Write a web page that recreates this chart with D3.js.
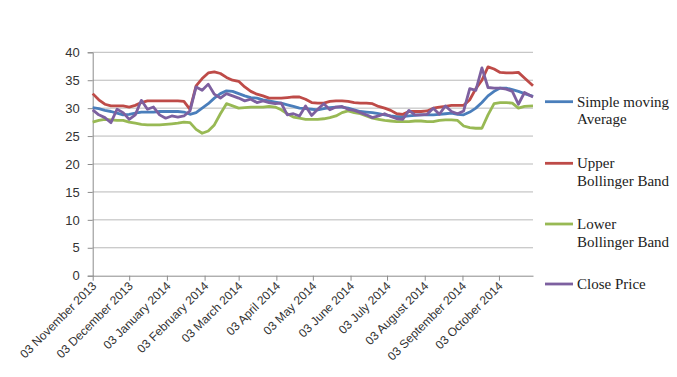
<!DOCTYPE html>
<html lang="en">
<head>
    <meta charset="UTF-8">
    <title>Bollinger Bands</title>
    <script src="https://d3js.org/d3.v7.min.js"></script>
    <style>
        body { margin: 0; background: #fff; }
        .grid line { stroke: #b9b9b9; stroke-width: 1; }
        .x-axis text, .y-axis text {
            font-family: "Liberation Sans", Arial, sans-serif;
            fill: #333;
        }
        .legend text {
            font-family: "Liberation Serif", "Times New Roman", serif;
            font-size: 15px;
            fill: #222;
        }
    </style>
</head>
<body>
    <div id="chart"></div>
    <script>
        // Dates of the samples (every 5 days)
        const dates = [
            "2013-11-03","2013-11-08","2013-11-13","2013-11-18","2013-11-23","2013-11-28",
            "2013-12-03","2013-12-08","2013-12-13","2013-12-18","2013-12-23","2013-12-28",
            "2014-01-02","2014-01-07","2014-01-12","2014-01-17","2014-01-22","2014-01-27",
            "2014-02-01","2014-02-06","2014-02-11","2014-02-16","2014-02-21","2014-02-26",
            "2014-03-03","2014-03-08","2014-03-13","2014-03-18","2014-03-23","2014-03-28",
            "2014-04-02","2014-04-07","2014-04-12","2014-04-17","2014-04-22","2014-04-27",
            "2014-05-02","2014-05-07","2014-05-12","2014-05-17","2014-05-22","2014-05-27",
            "2014-06-01","2014-06-06","2014-06-11","2014-06-16","2014-06-21","2014-06-26",
            "2014-07-01","2014-07-06","2014-07-11","2014-07-16","2014-07-21","2014-07-26",
            "2014-07-31","2014-08-05","2014-08-10","2014-08-15","2014-08-20","2014-08-25",
            "2014-08-30","2014-09-04","2014-09-09","2014-09-14","2014-09-19","2014-09-24",
            "2014-09-29","2014-10-04","2014-10-09","2014-10-14","2014-10-19","2014-10-24",
            "2014-10-31"
        ];

        const sma = [
            30.1,29.9,29.6,29.4,29.1,28.8, 28.9,29.1,29.3,29.3,29.3,29.4,
            29.4,29.4,29.4,29.3,28.9,29.2, 30.0,30.8,31.8,32.6,33.1,33.0,
            32.6,32.2,31.9,31.8,31.5,31.3, 31.1,30.9,30.6,30.3,30.0,29.9,
            29.8,29.7,29.9,30.1,30.2,30.2, 30.0,29.7,29.4,29.3,29.2,29.0,
            28.8,28.6,28.5,28.5,28.6,28.7, 28.8,28.8,28.8,28.9,29.0,29.1,
            28.9,28.8,29.3,30.0,31.0,32.2, 33.0,33.6,33.6,33.3,33.0,32.6,
            32.1
        ];

        const upperBand = [
            32.6,31.5,30.7,30.4,30.4,30.4, 30.2,30.5,31.0,31.3,31.3,31.3,
            31.3,31.3,31.3,31.2,29.8,34.0, 35.3,36.3,36.5,36.2,35.5,35.0,
            34.8,33.8,33.0,32.5,32.2,31.8, 31.8,31.8,31.9,32.0,32.0,31.6,
            31.0,30.9,30.9,31.2,31.3,31.3, 31.2,31.0,30.9,30.9,30.8,30.3,
            30.0,29.6,29.0,28.9,29.4,29.4, 29.4,29.5,30.0,30.2,30.3,30.5,
            30.5,30.5,31.5,33.5,35.0,37.4, 37.0,36.4,36.3,36.3,36.4,35.4,
            34.0
        ];

        const lowerBand = [
            27.5,27.8,28.0,27.9,27.8,27.8, 27.5,27.3,27.1,27.0,27.0,27.0,
            27.1,27.2,27.3,27.5,27.4,26.2, 25.5,25.9,27.0,29.0,30.8,30.4,
            30.0,30.1,30.2,30.2,30.2,30.3, 30.2,29.7,29.0,28.4,28.2,28.0,
            28.0,28.0,28.1,28.3,28.6,29.2, 29.5,29.2,29.0,28.6,28.2,28.0,
            27.8,27.7,27.6,27.6,27.6,27.7, 27.7,27.6,27.6,27.8,27.9,27.9,
            27.8,26.8,26.5,26.4,26.4,28.8, 30.8,31.0,31.0,30.9,30.0,30.3,
            30.4
        ];

        const closePrice = [
            29.7,28.8,28.3,27.4,29.8,29.2, 28.0,28.8,31.4,29.8,30.2,28.8,
            28.2,28.6,28.4,28.6,29.5,33.8, 33.2,34.3,32.5,31.8,32.6,32.2,
            31.8,31.3,31.6,31.0,31.3,31.0, 30.8,30.9,28.8,29.0,28.6,30.4,
            28.7,29.8,30.8,29.7,30.2,30.3, 29.8,29.6,29.2,28.8,28.3,28.6,
            29.0,28.5,28.1,28.0,29.6,28.8, 28.8,28.9,30.0,28.9,30.4,29.4,
            29.0,29.5,33.5,33.2,37.2,33.7, 33.6,33.6,33.4,33.0,30.7,32.8,
            32.0
        ];

        // Month ticks on the 3rd
        const tickDates = [
            "2013-11-03","2013-12-03","2014-01-03","2014-02-03","2014-03-03","2014-04-03",
            "2014-05-03","2014-06-03","2014-07-03","2014-08-03","2014-09-03","2014-10-03"
        ];
        const yTicks = [0, 5, 10, 15, 20, 25, 30, 35, 40];

        const seriesNames = ["Simple moving Average", "Upper Bollinger Band", "Lower Bollinger Band", "Close Price"];
        const legendLines = [["Simple moving", "Average"], ["Upper", "Bollinger Band"], ["Lower", "Bollinger Band"], ["Close Price"]];
        const colors = ["#4a7ebb", "#be4b48", "#98b954", "#7d60a0"];

        const parse = d3.timeParse("%Y-%m-%d");
        const width = 677, height = 377;
        const margin = { top: 52.3, right: 144, bottom: 101.3, left: 92.7 };

        const svg = d3.select("#chart").append("svg")
            .attr("width", width)
            .attr("height", height);

        const x = d3.scaleTime()
            .domain([parse(dates[0]), parse(dates[dates.length - 1])])
            .range([margin.left, width - margin.right]);

        const y = d3.scaleLinear()
            .domain([0, 40])
            .range([height - margin.bottom, margin.top]);

        // Gridlines
        svg.append("g")
            .attr("class", "grid")
            .selectAll("line")
            .data(yTicks.slice(1))
            .enter().append("line")
            .attr("x1", margin.left)
            .attr("x2", width - margin.right)
            .attr("y1", d => y(d))
            .attr("y2", d => y(d));

        // Y axis
        const yAxis = svg.append("g")
            .attr("class", "y-axis")
            .attr("transform", `translate(${margin.left},0)`)
            .call(d3.axisLeft(y).tickValues(yTicks).tickSize(5).tickPadding(8));
        yAxis.selectAll("text").style("font-size", "13px");
        yAxis.selectAll("line, path").attr("stroke", "#8c8c8c");

        // X axis
        const xAxis = svg.append("g")
            .attr("class", "x-axis")
            .attr("transform", `translate(0,${y(0)})`)
            .call(d3.axisBottom(x)
                .tickValues(tickDates.map(parse))
                .tickFormat(d3.timeFormat("%d %B %Y"))
                .tickSize(5)
                .tickSizeOuter(0));
        xAxis.selectAll("line, path").attr("stroke", "#8c8c8c");
        xAxis.selectAll("text")
            .style("font-size", "12px")
            .style("text-anchor", "end")
            .attr("dy", null)
            .attr("y", 0)
            .attr("transform", "translate(4,11) rotate(-45)");

        // Lines
        const allSeries = [sma, upperBand, lowerBand, closePrice];
        const line = d3.line()
            .x((d, i) => x(parse(dates[i])))
            .y(d => y(d));

        svg.append("g")
            .selectAll("path")
            .data(allSeries)
            .enter().append("path")
            .attr("d", d => line(d))
            .attr("fill", "none")
            .attr("stroke", (d, i) => colors[i])
            .attr("stroke-width", 2.8)
            .attr("stroke-linejoin", "round");

        // Legend
        const legendY = [101.7, 163.3, 224, 284];
        const legend = svg.append("g").attr("class", "legend");
        seriesNames.forEach((name, i) => {
            const g = legend.append("g").attr("transform", `translate(545,${legendY[i]})`);
            g.append("line")
                .attr("x1", 0).attr("x2", 28)
                .attr("stroke", colors[i])
                .attr("stroke-width", 2.8);
            g.append("text")
                .selectAll("tspan")
                .data(legendLines[i])
                .enter().append("tspan")
                .attr("x", 32)
                .attr("y", (d, j) => 5 + j * 17.7)
                .text(d => d);
        });
    </script>
</body>
</html>
